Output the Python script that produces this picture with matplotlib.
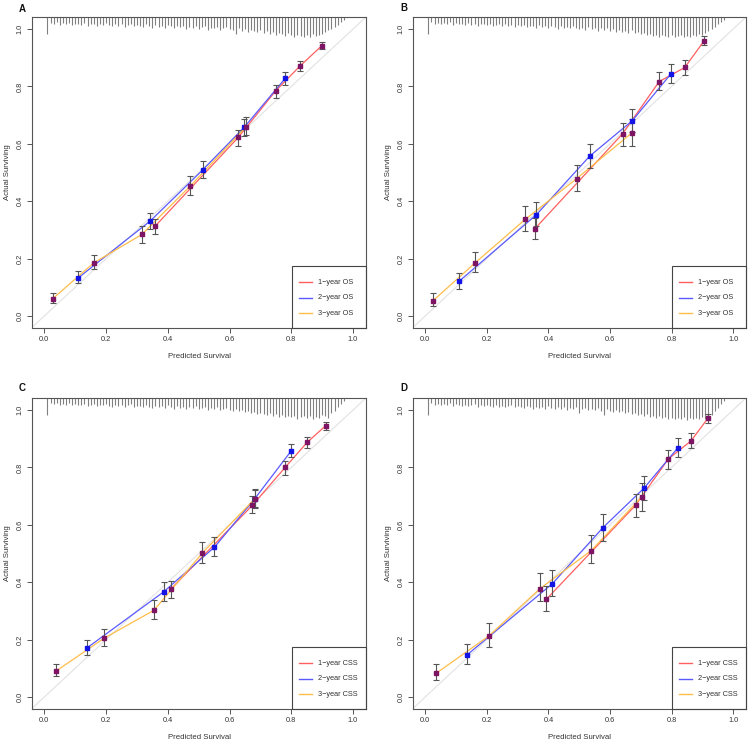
import matplotlib
matplotlib.use("Agg")
import matplotlib.pyplot as plt
from matplotlib.patches import Rectangle
import numpy as np

plt.rcParams['font.family'] = ['Liberation Sans', 'DejaVu Sans']

# ---------------- data ----------------
panels = ["A", "B", "C", "D"]
legend_labels = {
    "A": ["1\u2212year OS", "2\u2212year OS", "3\u2212year OS"],
    "B": ["1\u2212year OS", "2\u2212year OS", "3\u2212year OS"],
    "C": ["1\u2212year CSS", "2\u2212year CSS", "3\u2212year CSS"],
    "D": ["1\u2212year CSS", "2\u2212year CSS", "3\u2212year CSS"],
}

# series: predicted, observed, lower CI, upper CI
A1_pred = [0.358, 0.628, 0.749, 0.828, 0.899]
A1_obs  = [0.312, 0.622, 0.784, 0.871, 0.942]
A1_lo   = [0.286, 0.593, 0.760, 0.853, 0.929]
A1_hi   = [0.338, 0.647, 0.806, 0.890, 0.956]
A2_pred = [0.110, 0.343, 0.513, 0.647, 0.781]
A2_obs  = [0.133, 0.331, 0.509, 0.657, 0.829]
A2_lo   = [0.114, 0.304, 0.480, 0.626, 0.806]
A2_hi   = [0.156, 0.359, 0.540, 0.687, 0.852]
A3_pred = [0.027, 0.160, 0.316, 0.472, 0.654]
A3_obs  = [0.060, 0.185, 0.284, 0.452, 0.660]
A3_lo   = [0.046, 0.162, 0.255, 0.421, 0.629]
A3_hi   = [0.079, 0.212, 0.315, 0.487, 0.692]

B1_pred = [0.356, 0.641, 0.760, 0.843, 0.906]
B1_obs  = [0.304, 0.635, 0.817, 0.866, 0.959]
B1_lo   = [0.269, 0.594, 0.788, 0.839, 0.943]
B1_hi   = [0.342, 0.674, 0.849, 0.893, 0.976]
B2_pred = [0.110, 0.361, 0.534, 0.672, 0.799]
B2_obs  = [0.121, 0.353, 0.557, 0.680, 0.845]
B2_lo   = [0.095, 0.315, 0.516, 0.641, 0.813]
B2_hi   = [0.151, 0.397, 0.599, 0.720, 0.877]
B3_pred = [0.025, 0.162, 0.325, 0.492, 0.670]
B3_obs  = [0.053, 0.185, 0.337, 0.479, 0.637]
B3_lo   = [0.036, 0.152, 0.295, 0.435, 0.594]
B3_hi   = [0.079, 0.224, 0.382, 0.525, 0.686]

C1_pred = [0.409, 0.674, 0.780, 0.851, 0.912]
C1_obs  = [0.375, 0.668, 0.800, 0.887, 0.946]
C1_lo   = [0.345, 0.640, 0.775, 0.866, 0.932]
C1_hi   = [0.405, 0.699, 0.824, 0.906, 0.959]
C2_pred = [0.137, 0.386, 0.551, 0.681, 0.800]
C2_obs  = [0.170, 0.366, 0.522, 0.690, 0.858]
C2_lo   = [0.146, 0.333, 0.490, 0.660, 0.836]
C2_hi   = [0.199, 0.399, 0.557, 0.723, 0.881]
C3_pred = [0.039, 0.194, 0.355, 0.512, 0.682]
C3_obs  = [0.091, 0.205, 0.302, 0.502, 0.691]
C3_lo   = [0.072, 0.178, 0.272, 0.468, 0.662]
C3_hi   = [0.116, 0.237, 0.338, 0.540, 0.725]

D1_pred = [0.393, 0.683, 0.790, 0.863, 0.918]
D1_obs  = [0.340, 0.668, 0.830, 0.892, 0.971]
D1_lo   = [0.301, 0.626, 0.795, 0.866, 0.955]
D1_hi   = [0.387, 0.708, 0.862, 0.920, 0.985]
D2_pred = [0.135, 0.413, 0.577, 0.710, 0.821]
D2_obs  = [0.146, 0.395, 0.590, 0.727, 0.869]
D2_lo   = [0.115, 0.351, 0.545, 0.685, 0.836]
D2_hi   = [0.184, 0.444, 0.637, 0.769, 0.903]
D3_pred = [0.036, 0.207, 0.373, 0.539, 0.703]
D3_obs  = [0.083, 0.213, 0.378, 0.510, 0.697]
D3_lo   = [0.058, 0.175, 0.334, 0.466, 0.648]
D3_hi   = [0.116, 0.258, 0.431, 0.563, 0.747]

series = {
    "A": [(A1_pred, A1_obs, A1_lo, A1_hi), (A2_pred, A2_obs, A2_lo, A2_hi), (A3_pred, A3_obs, A3_lo, A3_hi)],
    "B": [(B1_pred, B1_obs, B1_lo, B1_hi), (B2_pred, B2_obs, B2_lo, B2_hi), (B3_pred, B3_obs, B3_lo, B3_hi)],
    "C": [(C1_pred, C1_obs, C1_lo, C1_hi), (C2_pred, C2_obs, C2_lo, C2_hi), (C3_pred, C3_obs, C3_lo, C3_hi)],
    "D": [(D1_pred, D1_obs, D1_lo, D1_hi), (D2_pred, D2_obs, D2_lo, D2_hi), (D3_pred, D3_obs, D3_lo, D3_hi)],
}

# distribution of predicted risk (spike lengths, thousandths of y unit), x = 0.01 .. 0.97
rug_x = [round(0.01 * i, 2) for i in range(1, 98)]
rug_A = [60, 20, 25, 19, 27, 22, 26, 20, 28, 23,
         25, 28, 22, 30, 26, 23, 31, 25, 29, 22,
         27, 33, 25, 30, 26, 34, 29, 24, 32, 27,
         30, 36, 26, 33, 38, 29, 35, 30, 37, 28,
         33, 40, 30, 36, 32, 41, 34, 37, 30, 42,
         36, 33, 44, 37, 40, 34, 45, 38, 36, 43,
         46, 60, 40, 48, 41, 52, 44, 49, 54, 45,
         56, 50, 60, 53, 63, 55, 59, 66, 57, 62,
         68, 61, 65, 70, 63, 69, 60, 67, 62, 58,
         52, 47, 42, 36, 28, 19, 12]
rug_B = [60, 19, 24, 20, 26, 22, 25, 19, 27, 22,
         26, 23, 29, 22, 28, 25, 30, 23, 26, 29,
         25, 32, 28, 23, 33, 26, 30, 28, 35, 29,
         32, 28, 36, 30, 33, 37, 29, 35, 32, 39,
         30, 36, 41, 33, 37, 34, 40, 32, 39, 43,
         37, 45, 36, 41, 39, 48, 40, 44, 37, 49,
         43, 52, 45, 51, 48, 55, 47, 57, 52, 60,
         56, 63, 58, 66, 61, 68, 62, 65, 70, 64,
         71, 66, 62, 70, 65, 68, 61, 66, 58, 63,
         55, 50, 43, 35, 26, 18, 11]
rug_C = [60, 18, 22, 19, 25, 21, 24, 18, 26, 21,
         24, 26, 21, 28, 25, 22, 29, 23, 26, 21,
         28, 30, 23, 29, 25, 32, 26, 22, 30, 28,
         29, 33, 25, 32, 36, 28, 33, 29, 35, 26,
         32, 37, 29, 35, 30, 39, 33, 36, 29, 40,
         35, 32, 41, 36, 39, 33, 43, 37, 35, 41,
         44, 40, 47, 43, 50, 45, 52, 48, 56, 51,
         55, 60, 53, 62, 57, 65, 60, 67, 62, 66,
         63, 72, 67, 64, 70, 62, 73, 65, 68, 60,
         64, 71, 53, 44, 32, 21, 12]
rug_D = [60, 19, 23, 20, 26, 22, 25, 19, 27, 22,
         25, 29, 23, 28, 26, 22, 30, 25, 28, 23,
         29, 32, 26, 30, 28, 33, 29, 25, 32, 29,
         30, 34, 28, 33, 37, 30, 36, 32, 38, 29,
         34, 38, 32, 37, 33, 41, 36, 38, 32, 54,
         37, 34, 42, 38, 41, 36, 44, 58, 37, 45,
         48, 42, 50, 45, 53, 48, 56, 52, 60, 55,
         62, 57, 66, 61, 68, 63, 70, 66, 72, 69,
         74, 70, 73, 67, 75, 71, 74, 68, 72, 65,
         73, 68, 58, 47, 34, 22, 12]
rugs = {"A": rug_A, "B": rug_B, "C": rug_C, "D": rug_D}

# ---------------- style ----------------
line_colors = ["#ff5f5f", "#5a5aff", "#ffbd4a"]
marker_colors = ["#7d1464", "#1414e6", "#7d1464"]
axis_col = "#555555"
text_col = "#333333"

fig = plt.figure(figsize=(7.52, 7.44), dpi=100)
W, H = 752.0, 744.0
# axes boxes in pixels: left, top, right, bottom
boxes = {
    "A": (32, 17, 366, 328),
    "B": (413, 17, 746, 328),
    "C": (32, 398, 366, 709),
    "D": (413, 398, 746, 709),
}
letter_pos = {"A": (22, 9), "B": (404, 8), "C": (22, 388), "D": (404, 388)}

XMIN, XMAX = -0.04, 1.042
YMIN, YMAX = -0.042, 1.042

for p in panels:
    l, t, r, b = boxes[p]
    ax = fig.add_axes([l / W, 1 - b / H, (r - l) / W, (b - t) / H])
    ax.set_xlim(XMIN, XMAX)
    ax.set_ylim(YMIN, YMAX)

    # ideal diagonal
    ax.plot([XMIN, XMAX], [XMIN, XMAX], color="#e2e2e2", lw=0.8, zorder=1)

    # distribution spikes hanging from the top
    ln = np.array(rugs[p]) / 1000.0
    ax.vlines(rug_x, YMAX - ln, YMAX, color="#808080", lw=0.8, zorder=2)

    # series
    for k, (pr, ob, lo, hi) in enumerate(series[p]):
        pr = np.array(pr); ob = np.array(ob)
        lo = np.array(lo); hi = np.array(hi)
        ax.plot(pr, ob, color=line_colors[k], lw=0.9, zorder=3)
        ax.errorbar(pr, ob, yerr=[ob - lo, hi - ob], fmt="none",
                    ecolor="#555555", elinewidth=0.8, capsize=2.3,
                    capthick=0.8, zorder=4)
        ax.plot(pr, ob, ls="none", marker="s", ms=2.2, color=marker_colors[k],
                mec=marker_colors[k], zorder=5)

    # legend box (R style, lower right corner)
    lx0, ly1 = 0.803, 0.174
    ax.add_patch(Rectangle((lx0, YMIN), XMAX - lx0, ly1 - YMIN, fill=False,
                           ec="#444444", lw=0.8, zorder=6, clip_on=False))
    for k, (lab, yy) in enumerate(zip(legend_labels[p], [0.118, 0.064, 0.010])):
        ax.plot([0.825, 0.868], [yy, yy], color=line_colors[k], lw=1.0, zorder=7)
        ax.text(0.887, yy, lab, fontsize=5.3, color=text_col, va="center",
                ha="left", zorder=7)

    # axes styling
    ticks = [0.0, 0.2, 0.4, 0.6, 0.8, 1.0]
    ax.set_xticks(ticks)
    ax.set_yticks(ticks)
    ax.set_xticklabels(["%.1f" % v for v in ticks])
    ax.set_yticklabels(["%.1f" % v for v in ticks], rotation=90, va="center")
    ax.tick_params(axis="both", direction="out", length=3.5, width=0.7,
                   colors=axis_col, labelsize=5.3, labelcolor=text_col, pad=2.5)
    for s in ax.spines.values():
        s.set_color(axis_col)
        s.set_linewidth(0.8)
    ax.set_xlabel("Predicted Survival", fontsize=5.6, color=text_col)
    ax.set_ylabel("Actual Surviving", fontsize=5.6, color=text_col)
    ax.xaxis.set_label_coords(0.5, -25.0 / (b - t))
    ax.yaxis.set_label_coords(-21.0 / (r - l), 0.5)

    lxp, lyp = letter_pos[p]
    fig.text(lxp / W, 1 - lyp / H, p, fontsize=7, fontweight="bold",
             ha="center", va="center", color="#111111")

fig.savefig("out.png", dpi=100)
